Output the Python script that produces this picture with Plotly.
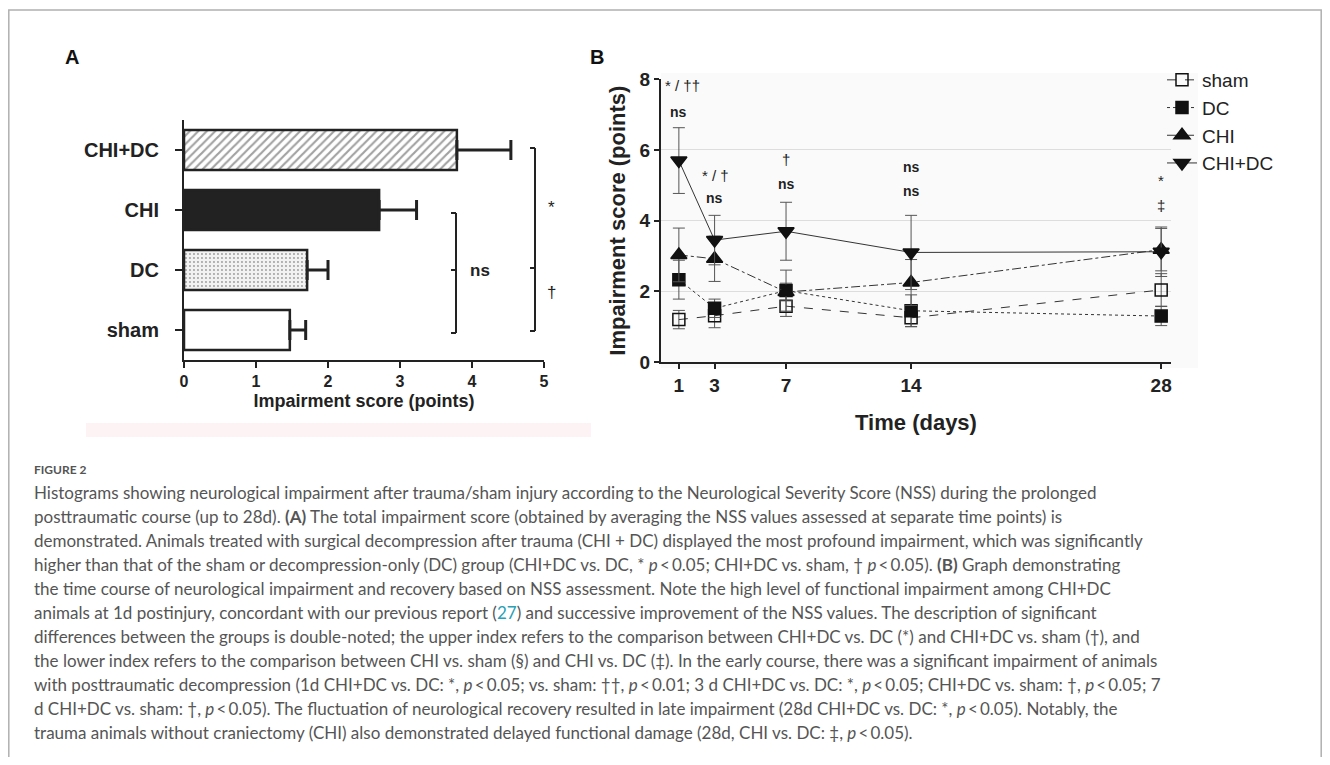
import plotly.graph_objects as go

# ---------------- Data ----------------
# Panel A: total impairment score
groups_a = ["sham", "DC", "CHI", "CHI+DC"]
mean_a = [1.47, 1.71, 2.71, 3.79]
err_a = [0.22, 0.29, 0.52, 0.75]

# Panel B: time course
days = [1, 3, 7, 14, 28]
sham_mean = [1.20, 1.31, 1.58, 1.25, 2.04]
sham_err = [0.26, 0.34, 0.29, 0.25, 0.46]
dc_mean = [2.33, 1.52, 2.02, 1.45, 1.30]
dc_err = [0.55, 0.26, 0.58, 0.45, 0.27]
chi_mean = [3.03, 2.92, 1.98, 2.25, 3.18]
chi_err = [0.76, 0.64, 0.25, 0.65, 0.60]
chidc_mean = [5.70, 3.45, 3.70, 3.10, 3.12]
chidc_err = [0.93, 0.70, 0.82, 1.05, 0.70]

# significance labels in panel B
sig_x = [1.23, 1, 3.05, 3, 7, 7, 14, 14, 28, 28]
sig_y = [7.82, 7.08, 5.27, 4.65, 5.72, 5.04, 5.52, 4.84, 5.13, 4.42]
sig_text = ["* / ††", "<b>ns</b>", "* / †", "<b>ns</b>", "†", "<b>ns</b>",
            "<b>ns</b>", "<b>ns</b>", "*", "‡"]

# figure sits inside the page's default 8px body margin
OFF = 8
W, H = 1330 - 2 * OFF, 765 - 2 * OFF
def px(x):
    return (x - OFF) / W
def py(y):
    return 1 - (y - OFF) / H

FONT = "Liberation Sans, Arial, sans-serif"
INK = "#222222"

fig = go.Figure()

# ---------------- Panel A ----------------
fig.add_trace(go.Bar(
    x=mean_a, y=groups_a, orientation="h", xaxis="x", yaxis="y",
    width=0.67, showlegend=False,
    marker=dict(
        color=["white", "#f2f2f2", INK, "white"],
        line=dict(color=INK, width=2.5),
        pattern=dict(shape=["", ".", "", "/"],
                     fgcolor=["#222222", "#888888", "#222222", "#111111"],
                     size=[6, 4, 6, 6],
                     solidity=[0.2, 0.18, 0.2, 0.36]),
    ),
    error_x=dict(type="data", array=err_a, arrayminus=[0] * len(err_a),
                 symmetric=False, color=INK, thickness=3, width=10),
))

# ---------------- Panel B ----------------
series = [
    ("sham", sham_mean, sham_err, "square-open", "dash", 12),
    ("DC", dc_mean, dc_err, "square", "dot", 12),
    ("CHI", chi_mean, chi_err, "triangle-up", "dashdot", 14),
    ("CHI+DC", chidc_mean, chidc_err, "triangle-down", "solid", 14),
]
for name, m, e, sym, dash, size in series:
    fig.add_trace(go.Scatter(
        x=days, y=m, name=name, mode="lines+markers", xaxis="x2", yaxis="y2",
        line=dict(color="#333333", width=1, dash=dash),
        marker=dict(symbol=sym, size=size, color="#111111",
                    line=dict(color="#111111", width=1.5)),
        error_y=dict(type="data", array=e, color="#555555", thickness=1, width=6),
    ))

for x, y, t in zip(sig_x, sig_y, sig_text):
    fig.add_annotation(x=x, y=y, xref="x2", yref="y2", text=t, showarrow=False,
                       xanchor="center", yanchor="middle",
                       font=dict(family=FONT, size=14 if "ns" in t else 15,
                                 color="#222"))

axis_common = dict(showline=True, linecolor=INK, linewidth=2, ticks="outside",
                   tickcolor=INK, tickwidth=2, zeroline=False, showgrid=False,
                   automargin=False)

fig.update_layout(
    width=W, height=H,
    margin=dict(l=0, r=0, t=0, b=0, autoexpand=False),
    paper_bgcolor="white", plot_bgcolor="rgba(0,0,0,0)",
    font=dict(family=FONT, color=INK),
    xaxis=dict(domain=[px(184), px(544)], anchor="y", range=[0, 5],
               tickvals=[0, 1, 2, 3, 4, 5], ticklen=6,
               tickfont=dict(size=16, family=FONT, weight="bold"),
               title=dict(text="Impairment score (points)",
                          font=dict(size=18, family=FONT, weight="bold"), standoff=5),
               **axis_common),
    yaxis=dict(domain=[py(360), py(120)], anchor="x", range=[-0.5, 3.5],
               type="category", categoryorder="array", categoryarray=groups_a,
               ticklen=7, ticklabelstandoff=12,
               tickfont=dict(size=20, family=FONT, weight="bold"),
               **axis_common),
    xaxis2=dict(domain=[px(661), px(1171)], anchor="y2", range=[0, 28.55],
                tickvals=days, ticklen=5,
                tickfont=dict(size=19, family=FONT, weight="bold"),
                title=dict(text="Time (days)", font=dict(size=22, family=FONT, weight="bold"),
                           standoff=20),
                **axis_common),
    yaxis2=dict(domain=[py(362), py(79.3)], anchor="x2", range=[0, 8],
                tickvals=[0, 2, 4, 6, 8], ticklen=5,
                tickfont=dict(size=19, family=FONT, weight="bold"),
                title=dict(text="Impairment score (points)",
                           font=dict(size=22, family=FONT, weight="bold"), standoff=8),
                **{**axis_common, "showgrid": True}, gridcolor="#dddddd", gridwidth=1),
    legend=dict(x=px(1162), y=py(61), xanchor="left", yanchor="top",
                font=dict(size=19, family=FONT, color="#222"),
                bgcolor="rgba(0,0,0,0)", itemwidth=30, tracegroupgap=0),
)

# panel B light background
fig.add_shape(type="rect", xref="paper", yref="paper", x0=px(661), x1=px(1198),
              y0=py(368), y1=py(73), fillcolor="#fafafa", line=dict(width=0),
              layer="below")
# pink band under panel A
fig.add_shape(type="rect", xref="paper", yref="paper", x0=px(86), x1=px(591),
              y0=py(437), y1=py(423), fillcolor="#fdf2f4", line=dict(width=0),
              layer="below")
# frame
fig.add_shape(type="path", xref="paper", yref="paper",
              path=f"M {px(8.8)} {py(765)} L {px(8.8)} {py(10)} L {px(1321.2)} {py(10)} L {px(1321.2)} {py(765)}",
              line=dict(color="#b0b0b0", width=1.5))

# brackets in panel A (domain coordinates)
def bracket(x, xcap, y0, y1, ymid):
    for (a, b, c, d) in [(xcap, y0, x, y0), (x, y0, x, y1), (xcap, y1, x, y1), (xcap, ymid, x, ymid)]:
        fig.add_shape(type="line", xref="x domain", yref="y domain",
                      x0=a, y0=b, x1=c, y1=d, line=dict(color=INK, width=2))

bracket(0.7556, 0.7417, 0.1125, 0.6125, 0.375)
bracket(0.975, 0.9611, 0.1208, 0.8833, 0.3833)
for (xx, yy, tt) in [(0.822, 0.375, "<b>ns</b>"), (1.022, 0.6375, "*"), (1.022, 0.283, "†")]:
    fig.add_annotation(x=xx, y=yy, xref="x domain", yref="y domain", text=tt,
                       xanchor="center", yanchor="middle", showarrow=False,
                       font=dict(size=17, family=FONT, color=INK))

# panel letters
for (xx, yy, tt) in [(72, 57, "A"), (597, 57, "B")]:
    fig.add_annotation(x=px(xx), y=py(yy), xref="paper", yref="paper", text=f"<b>{tt}</b>",
                       xanchor="center", yanchor="middle", showarrow=False,
                       font=dict(size=20, family=FONT, color="#111"))

# caption
P = "<i>p</i>\u2009&lt;\u20090.05"
caption = [
    "Histograms showing neurological impairment after trauma/sham injury according to the Neurological Severity Score (NSS) during the prolonged",
    "posttraumatic course (up to 28d). <b>(A)</b> The total impairment score (obtained by averaging the NSS values assessed at separate time points) is",
    "demonstrated. Animals treated with surgical decompression after trauma (CHI + DC) displayed the most profound impairment, which was significantly",
    f"higher than that of the sham or decompression-only (DC) group (CHI+DC vs. DC, * {P}; CHI+DC vs. sham, † {P}). <b>(B)</b> Graph demonstrating",
    "the time course of neurological impairment and recovery based on NSS assessment. Note the high level of functional impairment among CHI+DC",
    "animals at 1d postinjury, concordant with our previous report (<span style='color:#2a9fb5'>27</span>) and successive improvement of the NSS values. The description of significant",
    "differences between the groups is double-noted; the upper index refers to the comparison between CHI+DC vs. DC (*) and CHI+DC vs. sham (†), and",
    "the lower index refers to the comparison between CHI vs. sham (§) and CHI vs. DC (‡). In the early course, there was a significant impairment of animals",
    f"with posttraumatic decompression (1d CHI+DC vs. DC: *, {P}; vs. sham: ††, <i>p</i>\u2009&lt;\u20090.01; 3 d CHI+DC vs. DC: *, {P}; CHI+DC vs. sham: †, {P}; 7",
    f"d CHI+DC vs. sham: †, {P}). The fluctuation of neurological recovery resulted in late impairment (28d CHI+DC vs. DC: *, {P}). Notably, the",
    f"trauma animals without craniectomy (CHI) also demonstrated delayed functional damage (28d, CHI vs. DC: ‡, {P}).",
]
CAP_FONT = "Lato, Open Sans, sans-serif"
fig.add_annotation(x=px(32), y=py(469), xref="paper", yref="paper", xanchor="left",
                   yanchor="middle", text="FIGURE 2", showarrow=False,
                   font=dict(size=12, family=CAP_FONT, color="#555", weight="bold"))
for i, line in enumerate(caption):
    fig.add_annotation(x=px(32), y=py(492 + 24 * i), xref="paper", yref="paper",
                       xanchor="left", yanchor="middle", text=line, showarrow=False,
                       font=dict(size=17, family=CAP_FONT, color="#555"))

fig.write_html("out.html")
